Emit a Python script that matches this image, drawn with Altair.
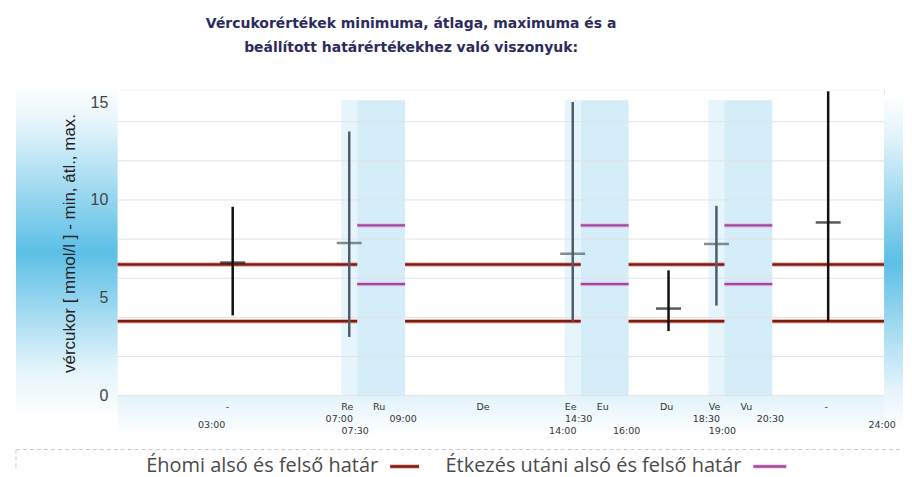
import altair as alt
import pandas as pd

# ---------------- data ----------------
title_lines = ["Vércukorértékek minimuma, átlaga, maximuma és a",
               "beállított határértékekhez való viszonyuk:"]
y_title = "vércukor [ mmol/l ] - min, átl., max."

period_names = ["-", "Re", "Ru", "De", "Ee", "Eu", "Du", "Ve", "Vu", "-"]
period_starts = [0, 7, 7.5, 9, 14, 14.5, 16, 18.5, 19, 20.5]
period_ends = [7, 7.5, 9, 14, 14.5, 16, 18.5, 19, 20.5, 24]

time_hours = [3, 7, 7.5, 9, 14, 14.5, 16, 18.5, 19, 20.5, 24]
time_labels = ["03:00", "07:00", "07:30", "09:00", "14:00", "14:30",
               "16:00", "18:30", "19:00", "20:30", "24:00"]

band_starts = [7, 7.5, 14, 14.5, 18.5, 19]
band_ends = [7.5, 9, 14.5, 16, 19, 20.5]
band_kind = ["előtte", "utána", "előtte", "utána", "előtte", "utána"]
band_top = 15.1

bar_hours = [3.6, 7.25, 14.25, 17.25, 18.75, 22.25]
bar_min = [4.1, 3.0, 3.8, 3.3, 4.6, 3.8]
bar_mean = [6.8, 7.8, 7.25, 4.45, 7.75, 8.85]
bar_max = [9.65, 13.5, 15.0, 6.4, 9.7, 15.55]
bar_group = ["egyéb", "étkezés előtt", "étkezés előtt", "egyéb", "étkezés előtt", "egyéb"]

fasting_name = "Éhomi alsó és felső határ"
post_name = "Étkezés utáni alsó és felső határ"
fasting_limits = [3.8, 6.7]
post_limits = [5.7, 8.7]
fasting_starts = [0, 9, 16, 20.5]
fasting_ends = [7.5, 14.5, 19, 24]
post_starts = [7.5, 14.5, 19]
post_ends = [9, 16, 20.5]

grid_values = [0, 2, 4, 6, 8, 10, 12, 14]
y_label_values = [0, 5, 10, 15]
y_domain = [0, 15.6]
x_domain = [0, 24]

# ---------------- layout / style ----------------
W, H = 768, 306
TIME_ROW = [3, 2, 4, 2, 4, 2, 4, 2, 4, 2, 3]   # label row of each time (0 = period names)
RED_CORE, RED_HALO = "#7d1c13", "#e0705f"
PINK_CORE, PINK_HALO = "#a3479a", "#e8a6dc"
LEG_Y = 377                         # legend row, px below the plot top
LEG_SYM = [(273, 302), (637, 670)]  # legend symbol spans, px from plot left

# tables
bands = pd.DataFrame({"s": band_starts, "e": band_ends, "k": band_kind, "lo": 0, "hi": band_top})
bars = pd.DataFrame({"h": bar_hours, "mn": bar_min, "avg": bar_mean, "mx": bar_max, "g": bar_group})
grid = pd.DataFrame({"v": grid_values})
seg_rows = []
for v in fasting_limits:
    for s, e in zip(fasting_starts, fasting_ends):
        seg_rows.append({"s": s, "e": e, "v": v, "series": fasting_name})
for v in post_limits:
    for s, e in zip(post_starts, post_ends):
        seg_rows.append({"s": s, "e": e, "v": v, "series": post_name})
segs = pd.DataFrame(seg_rows)
one = pd.DataFrame({"a": [0]})

xlab_rows = [{"h": (s + e) / 2, "t": n, "row": 0}
             for n, s, e in zip(period_names, period_starts, period_ends)]
xlab_rows += [{"h": h, "t": t, "row": r} for h, t, r in zip(time_hours, time_labels, TIME_ROW)]
xlab = pd.DataFrame(xlab_rows)

Y_AX = alt.Axis(values=y_label_values, title=y_title, grid=False, ticks=False,
                domain=False, labelFont="Liberation Sans", labelFontSize=16,
                labelColor="#444444", labelPadding=10, titleFont="Liberation Sans",
                titleFontSize=17, titleFontWeight="normal", titleColor="#222222",
                titlePadding=12, zindex=1)
xs = alt.Scale(domain=x_domain, nice=False, zero=False)
ys = alt.Scale(domain=y_domain, nice=False, zero=False)


def X(f):
    return alt.X(f, scale=xs, axis=None, title=None)


def Y(f):
    return alt.Y(f, scale=ys, axis=Y_AX, title=None)


vgrad = lambda stops: {"gradient": "linear", "x1": 0, "y1": 0, "x2": 0, "y2": 1,
                       "stops": [{"offset": o, "color": c} for o, c in stops]}

left_bg = alt.Chart(one).mark_rect(fill=vgrad([(0, "#ffffff"), (0.12, "#e4f4fb"), (0.5, "#5cbfe6"),
                                               (0.85, "#e4f4fb"), (1, "#ffffff")])).encode(
    x=alt.value(-102), x2=alt.value(0), y=alt.value(-6), y2=alt.value(H + 24))
right_bg = alt.Chart(one).mark_rect(fill=vgrad([(0, "#ffffff"), (0.12, "#e4f4fb"), (0.5, "#5cbfe6"),
                                                (0.88, "#e4f4fb"), (1, "#ffffff")])).encode(
    x=alt.value(W), x2=alt.value(W + 19), y=alt.value(4), y2=alt.value(H + 34))
bottom_bg = alt.Chart(one).mark_rect(fill=vgrad([(0, "#e2f3fb"), (1, "#ffffff")])).encode(
    x=alt.value(0), x2=alt.value(W), y=alt.value(H), y2=alt.value(H + 40))
plot_bg = alt.Chart(one).mark_rect(fill="#ffffff").encode(
    x=alt.value(0), x2=alt.value(W), y=alt.value(0), y2=alt.value(H))

band_layer = alt.Chart(bands).mark_rect().encode(
    x=X("s:Q"), x2="e:Q", y=Y("lo:Q"), y2="hi:Q",
    color=alt.Color("k:N", scale=alt.Scale(domain=["előtte", "utána"], range=["#e6f5fc", "#d5edf9"]),
                    legend=None))

grid_layer = alt.Chart(grid).mark_rule(color="#e2e2e2", strokeWidth=1).encode(y=Y("v:Q"))

series_dom = [fasting_name, post_name]
halo = alt.Chart(segs).mark_rule(strokeWidth=4.5, opacity=0.55).encode(
    x=X("s:Q"), x2="e:Q", y=Y("v:Q"),
    color=alt.Color("series:N", scale=alt.Scale(domain=series_dom, range=[RED_HALO, PINK_HALO]),
                    legend=None))
core = alt.Chart(segs).mark_rule(strokeWidth=2.4).encode(
    x=X("s:Q"), x2="e:Q", y=Y("v:Q"),
    color=alt.Color("series:N", scale=alt.Scale(domain=series_dom, range=[RED_CORE, PINK_CORE]),
                    legend=None))

bar_scale = alt.Scale(domain=["egyéb", "étkezés előtt"], range=["#111111", "#4f5d68"])
bar_layer = alt.Chart(bars).mark_rule(strokeWidth=2.5).encode(
    x=X("h:Q"), y=Y("mn:Q"), y2="mx:Q", color=alt.Color("g:N", scale=bar_scale, legend=None))
mean_layer = alt.Chart(bars).mark_tick(orient="horizontal", size=25, thickness=2.5).encode(
    x=X("h:Q"), y=Y("avg:Q"), color=alt.Color("g:N", scale=bar_scale, legend=None))

# ---- legend row (label first, then its line sample, as in the original) ----
legend_layers = []
for name, (x1, x2), c_core, c_halo in zip(series_dom, LEG_SYM, [RED_CORE, PINK_CORE],
                                          [RED_HALO, PINK_HALO]):
    d = pd.DataFrame({"label": [name]})
    legend_layers.append(alt.Chart(d).mark_text(
        align="right", baseline="middle", font="Open Sans", fontSize=20, color="#4a4a4a").encode(
        text="label:N", x=alt.value(x1 - 12), y=alt.value(LEG_Y)))
    legend_layers.append(alt.Chart(d).mark_rule(color=c_halo, strokeWidth=4.5, opacity=0.55).encode(
        x=alt.value(x1), x2=alt.value(x2), y=alt.value(LEG_Y)))
    legend_layers.append(alt.Chart(d).mark_rule(color=c_core, strokeWidth=2.6).encode(
        x=alt.value(x1), x2=alt.value(x2), y=alt.value(LEG_Y)))

dash_top = alt.Chart(one).mark_rule(color="#c8c8c8", strokeDash=[4, 3], strokeWidth=1).encode(
    x=alt.value(-102), x2=alt.value(W + 19), y=alt.value(H + 54))
dash_left = alt.Chart(one).mark_rule(color="#c8c8c8", strokeDash=[4, 3], strokeWidth=1).encode(
    x=alt.value(-102), y=alt.value(H + 54), y2=alt.value(H + 74))

main = alt.layer(
    left_bg, right_bg, bottom_bg, plot_bg, band_layer, grid_layer, halo, core, bar_layer, mean_layer,
    dash_top, dash_left, *legend_layers
).resolve_scale(color="independent")

# staggered x-axis labels: period names and boundary times
xlabels = alt.Chart(xlab).mark_text(font="DejaVu Sans", fontSize=9.5, color="#333333",
                                    baseline="middle", dx=-2).encode(
    x=X("h:Q"),
    y=alt.Y("row:Q", scale=alt.Scale(domain=[0, 4], range=[H + 11, H + 35]), axis=None),
    text="t:N")

chart = alt.layer(main, xlabels).resolve_scale(y="independent").properties(
    width=W, height=H,
    padding={"left": 7, "top": 9, "right": 0, "bottom": 0},
    title=alt.TitleParams(text=title_lines, anchor="middle", dx=-90, font="DejaVu Sans",
                          fontSize=14, fontWeight="bold", color="#2d2b5e", lineHeight=24,
                          offset=29),
).configure_view(stroke=None).configure(background="#ffffff")

chart.save("out.html", embed_options={"renderer": "svg", "actions": False})
